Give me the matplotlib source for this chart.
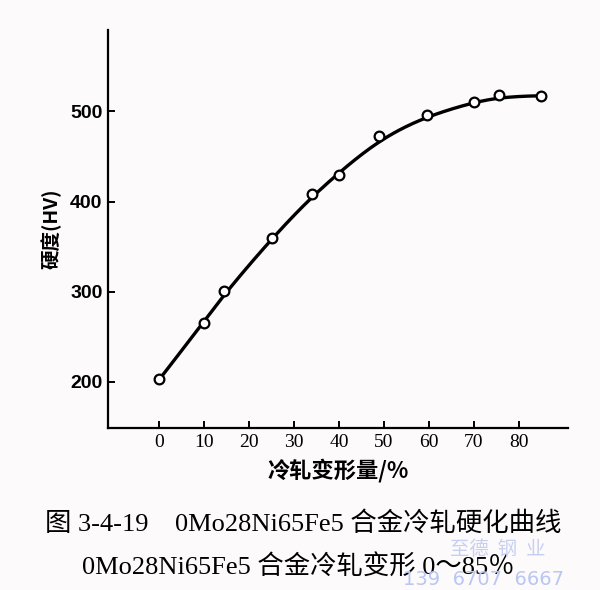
import numpy as np
import matplotlib.pyplot as plt

# cold-rolling reduction (%) and hardness (HV)
reduction = [0, 10, 14.5, 25, 34, 40, 49, 59.5, 70, 75.5, 85]
hardness = [203, 265, 301, 360, 409, 430, 473, 496, 510, 518, 517]

x_ticks = [0, 10, 20, 30, 40, 50, 60, 70, 80]
y_ticks = [200, 300, 400, 500]

caption_1 = '图 3-4-19    0Mo28Ni65Fe5 合金冷轧硬化曲线'
caption_2 = '0Mo28Ni65Fe5 合金冷轧变形 0～85％'

cjk = ['Noto Sans CJK SC', 'DejaVu Sans']
serif_cjk = ['Liberation Serif', 'Noto Sans CJK SC']


def smooth_curve(x, y, bandwidth=7.5, n=200):
    # local linear regression with gaussian weights -> smooth hand-drawn-like curve
    x = np.asarray(x, float)
    y = np.asarray(y, float)
    xs = np.linspace(x.min(), x.max(), n)
    ys = []
    for x0 in xs:
        w = np.exp(-0.5 * ((x - x0) / bandwidth) ** 2)
        sw = np.sqrt(w)
        A = np.vstack([np.ones_like(x), x - x0]).T * sw[:, None]
        b, *_ = np.linalg.lstsq(A, y * sw, rcond=None)
        ys.append(b[0])
    return xs, np.array(ys)


fig = plt.figure(figsize=(6, 5.9), dpi=100, facecolor='#fcfafa')
ax = fig.add_axes([0.18, 0.2746, 0.767, 0.674])
ax.set_facecolor('none')

xs, ys = smooth_curve(reduction, hardness)
ax.plot(xs, ys, color='black', lw=2.4, zorder=2)
ax.plot(reduction, hardness, linestyle='none', marker='o', ms=7,
        mfc='white', mec='black', mew=1.6, zorder=3)

ax.set_xlim(-11.4, 91)
ax.set_ylim(149, 590)
ax.set_xticks(x_ticks)
ax.set_yticks(y_ticks)
ax.set_xticklabels([str(t) for t in x_ticks], family='Liberation Serif', fontsize=14)
ax.set_yticklabels([str(t) for t in y_ticks], family='Liberation Sans',
                   fontweight='bold', fontsize=14)
ax.tick_params(direction='in', length=5, width=1.4, colors='black')
ax.tick_params(axis='x', pad=4)
ax.tick_params(axis='y', pad=4)

for side in ['top', 'right']:
    ax.spines[side].set_visible(False)
for side in ['left', 'bottom']:
    ax.spines[side].set_linewidth(1.6)

ax.set_xlabel('冷轧变形量/%', family=cjk, fontweight='bold', fontsize=16, labelpad=6)
ax.set_ylabel('硬度(HV)', family=cjk, fontweight='bold', fontsize=14, labelpad=6)

fig.text(0.505, 0.113, caption_1, family=serif_cjk, fontsize=19,
         ha='center', va='center')
fig.text(0.497, 0.04, caption_2, family=serif_cjk, fontsize=19,
         ha='center', va='center')

# faint watermark of the scanned page
fig.text(0.83, 0.068, '至德  钢  业', family=cjk, fontsize=14, color='#c8d0f2',
         ha='center', va='center')
fig.text(0.805, 0.018, '139  6707  6667', family='DejaVu Sans', fontsize=14,
         color='#bac6f3', ha='center', va='center')

fig.savefig('out.png', dpi=100, facecolor=fig.get_facecolor())
